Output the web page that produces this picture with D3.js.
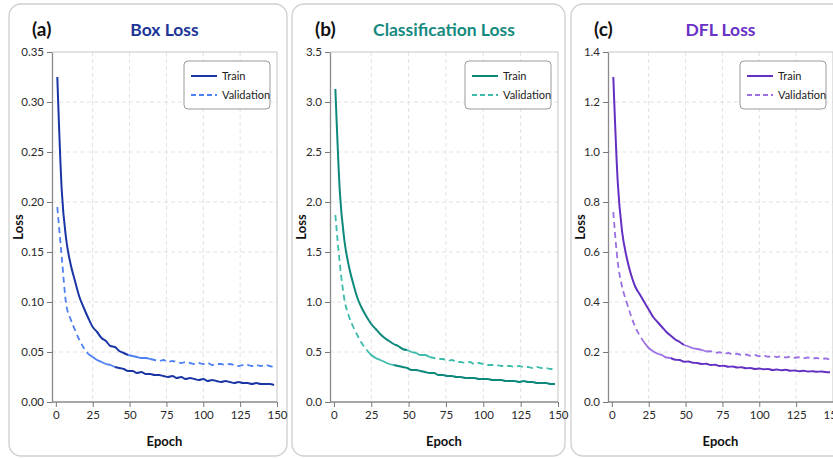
<!DOCTYPE html>
<html>
<head>
<meta charset="utf-8">
<script src="https://cdn.jsdelivr.net/npm/d3@7"></script>
<style>
  body { margin: 0; background: #fff; }
  svg { display: block; font-family: Lato, "Open Sans", sans-serif; }
</style>
</head>
<body>
<div id="chart"></div>
<script>
// epochs sampled every 3rd epoch (1, 4, ..., 148)
const epochs = d3.range(1, 149, 3)

const boxTrain = [0.325, 0.212, 0.163, 0.138, 0.121, 0.105, 0.094, 0.084, 0.075, 0.070,
  0.064, 0.061, 0.056, 0.055, 0.051, 0.049, 0.047, 0.046, 0.045, 0.044,
  0.044, 0.043, 0.042, 0.041, 0.042, 0.040, 0.041, 0.040, 0.039, 0.040,
  0.039, 0.038, 0.039, 0.038, 0.039, 0.037, 0.038, 0.038, 0.037, 0.038,
  0.037, 0.036, 0.037, 0.037, 0.036, 0.037, 0.036, 0.037, 0.036, 0.035]
const boxVal = [0.195, 0.145, 0.098, 0.083, 0.072, 0.062, 0.054, 0.048, 0.045, 0.042,
  0.040, 0.038, 0.037, 0.035, 0.034, 0.033, 0.031, 0.031, 0.029, 0.030,
  0.028, 0.028, 0.027, 0.027, 0.026, 0.025, 0.026, 0.024, 0.025, 0.023,
  0.024, 0.023, 0.022, 0.023, 0.021, 0.022, 0.021, 0.020, 0.021, 0.020,
  0.019, 0.020, 0.019, 0.019, 0.018, 0.019, 0.018, 0.018, 0.018, 0.017]

const clsTrain = [3.13, 2.10, 1.62, 1.36, 1.18, 1.03, 0.93, 0.85, 0.78, 0.73,
  0.68, 0.64, 0.61, 0.58, 0.56, 0.53, 0.52, 0.50, 0.49, 0.47,
  0.47, 0.45, 0.44, 0.43, 0.43, 0.41, 0.42, 0.40, 0.40, 0.39,
  0.40, 0.38, 0.39, 0.38, 0.37, 0.37, 0.37, 0.36, 0.36, 0.36,
  0.35, 0.36, 0.35, 0.35, 0.34, 0.35, 0.34, 0.34, 0.33, 0.33]
const clsVal = [1.87, 1.38, 1.03, 0.86, 0.75, 0.66, 0.58, 0.52, 0.47, 0.44,
  0.42, 0.40, 0.38, 0.37, 0.36, 0.35, 0.34, 0.32, 0.32, 0.31,
  0.30, 0.29, 0.29, 0.27, 0.27, 0.26, 0.26, 0.25, 0.25, 0.24,
  0.24, 0.24, 0.23, 0.23, 0.23, 0.22, 0.22, 0.22, 0.21, 0.21,
  0.21, 0.20, 0.21, 0.20, 0.20, 0.19, 0.19, 0.19, 0.18, 0.18]

const dflTrain = [1.30, 0.88, 0.68, 0.58, 0.51, 0.46, 0.43, 0.40, 0.37, 0.34,
  0.32, 0.30, 0.28, 0.265, 0.25, 0.24, 0.228, 0.222, 0.215, 0.212,
  0.208, 0.202, 0.203, 0.196, 0.199, 0.193, 0.196, 0.190, 0.193, 0.188,
  0.190, 0.185, 0.188, 0.183, 0.186, 0.181, 0.184, 0.180, 0.183, 0.178,
  0.181, 0.177, 0.179, 0.175, 0.178, 0.174, 0.176, 0.172, 0.174, 0.171]
const dflVal = [0.76, 0.56, 0.46, 0.40, 0.345, 0.298, 0.265, 0.238, 0.216, 0.203,
  0.193, 0.188, 0.178, 0.176, 0.169, 0.168, 0.161, 0.162, 0.157, 0.156,
  0.152, 0.153, 0.148, 0.149, 0.144, 0.145, 0.141, 0.142, 0.138, 0.139,
  0.135, 0.136, 0.132, 0.134, 0.131, 0.132, 0.128, 0.130, 0.127, 0.129,
  0.125, 0.126, 0.123, 0.125, 0.122, 0.123, 0.121, 0.122, 0.120, 0.119]

const xTicks = [0, 25, 50, 75, 100, 125, 150]
const seriesNames = ['Train', 'Validation']

// in the source figure the line styles swap partway along each curve
const upperSwap = [48, 62] // train curve: dark solid, then light solid, then light dashed
const lowerSwap = [22, 40] // validation curve: light dashed, then light solid, then dark solid

const panels = [
  { tag: '(a)', title: 'Box Loss', train: boxTrain, val: boxVal, yMax: 0.35, yStep: 0.05, fmt: '.2f',
    dark: '#1a36a5', light: '#4d80f2', titleColor: '#1c3596',
    card: [9, 287], plot: [52, 277] },
  { tag: '(b)', title: 'Classification Loss', train: clsTrain, val: clsVal, yMax: 3.5, yStep: 0.5, fmt: '.1f',
    dark: '#0d897c', light: '#3dbcab', titleColor: '#168a7f',
    card: [292, 565], plot: [330, 558] },
  { tag: '(c)', title: 'DFL Loss', train: dflTrain, val: dflVal, yMax: 1.4, yStep: 0.2, fmt: '.1f',
    dark: '#6330c2', light: '#9a70e3', titleColor: '#6a31c6',
    card: [571, 850], plot: [608, 833] },
]

const width = 833
const height = 458
const plotTop = 52
const plotBottom = 402

const svg = d3.select('#chart').append('svg')
  .attr('width', width)
  .attr('height', height)
  .attr('viewBox', `0 0 ${width} ${height}`)

function drawPanel(p) {
  const g = svg.append('g').attr('class', 'panel')
  const [left, right] = p.plot

  // card
  g.append('rect')
    .attr('x', p.card[0]).attr('y', 4)
    .attr('width', p.card[1] - p.card[0]).attr('height', 452)
    .attr('rx', 12)
    .attr('fill', '#fff')
    .attr('stroke', '#cfcfcf')
    .attr('stroke-width', 1.3)

  const x = d3.scaleLinear().domain([-2.6, 150]).range([left, right])
  const y = d3.scaleLinear().domain([0, p.yMax]).range([plotBottom, plotTop])
  const yTicks = d3.range(0, p.yMax + p.yStep / 2, p.yStep)

  // grid
  g.append('g').selectAll('line.h')
    .data(yTicks.slice(1, -1))
    .join('line')
    .attr('x1', left).attr('x2', right)
    .attr('y1', (d) => y(d)).attr('y2', (d) => y(d))
    .attr('stroke', '#e2e2e2').attr('stroke-dasharray', '4,3')
  g.append('g').selectAll('line.v')
    .data(xTicks.slice(1, -1))
    .join('line')
    .attr('x1', (d) => x(d)).attr('x2', (d) => x(d))
    .attr('y1', plotTop).attr('y2', plotBottom)
    .attr('stroke', '#e2e2e2').attr('stroke-dasharray', '4,3')

  // frame: light top/right, darker axes
  g.append('path')
    .attr('d', `M${left},${plotTop}H${right}V${plotBottom}`)
    .attr('fill', 'none').attr('stroke', '#c4c4c4').attr('stroke-width', 1)

  const xAxis = g.append('g')
    .attr('transform', `translate(0,${plotBottom})`)
    .call(d3.axisBottom(x).tickValues(xTicks).tickSize(5).tickSizeOuter(0).tickPadding(4))
  const yAxis = g.append('g')
    .attr('transform', `translate(${left},0)`)
    .call(d3.axisLeft(y).tickValues(yTicks).tickFormat(d3.format(p.fmt)).tickSize(5).tickSizeOuter(0).tickPadding(3))
  ;[xAxis, yAxis].forEach((a) => {
    a.select('.domain').attr('stroke', '#8a8a8a').attr('stroke-width', 1.3)
    a.selectAll('.tick line').attr('stroke', '#777')
    a.selectAll('.tick text').attr('fill', '#2a2a2a').attr('font-size', 11.5).attr('font-family', 'Lato, sans-serif')
  })
  xAxis.select('.domain').attr('d', `M${left},0H${right}`)

  // curves, styled piecewise
  const line = d3.line().x((d) => x(d[0])).y((d) => y(d[1])).curve(d3.curveMonotoneX)
  const styles = {
    darkSolid: { color: p.dark, dash: null, w: 2 },
    lightSolid: { color: p.light, dash: null, w: 1.8 },
    lightDash: { color: p.light, dash: '6,4', w: 1.8 },
  }
  function drawCurve(values, swaps, order) {
    const pts = epochs.map((e, i) => [e, values[i]])
    const cut = swaps.map((s) => d3.bisectLeft(epochs, s))
    const bounds = [0, ...cut, pts.length - 1]
    order.forEach((key, k) => {
      const seg = pts.slice(bounds[k], bounds[k + 1] + 1)
      const st = styles[key]
      g.append('path')
        .attr('d', line(seg))
        .attr('fill', 'none')
        .attr('stroke', st.color)
        .attr('stroke-width', st.w)
        .attr('stroke-linejoin', 'round')
        .attr('stroke-dasharray', st.dash)
    })
  }
  drawCurve(p.val, lowerSwap, ['lightDash', 'lightSolid', 'darkSolid'])
  drawCurve(p.train, upperSwap, ['darkSolid', 'lightSolid', 'lightDash'])

  // labels
  g.append('text')
    .attr('x', p.card[0] + 23).attr('y', 36)
    .attr('font-size', 19).attr('font-weight', 700).attr('fill', '#111')
    .text(p.tag)
  g.append('text')
    .attr('x', (left + right) / 2).attr('y', 36)
    .attr('text-anchor', 'middle')
    .attr('font-size', 17.5).attr('font-weight', 700).attr('fill', p.titleColor)
    .text(p.title)
  g.append('text')
    .attr('x', (left + right) / 2).attr('y', 446)
    .attr('text-anchor', 'middle')
    .attr('font-size', 13).attr('font-weight', 700).attr('fill', '#111')
    .text('Epoch')
  g.append('text')
    .attr('transform', `translate(${p.card[0] + 14},${(plotTop + plotBottom) / 2}) rotate(-90)`)
    .attr('text-anchor', 'middle')
    .attr('font-size', 13).attr('font-weight', 700).attr('fill', '#111')
    .text('Loss')

  // legend
  const lg = g.append('g').attr('transform', `translate(${right - 93},61)`)
  lg.append('rect')
    .attr('width', 86).attr('height', 48).attr('rx', 4)
    .attr('fill', '#fff').attr('stroke', '#9a9a9a').attr('stroke-width', 1)
  seriesNames.forEach((name, i) => {
    const st = i === 0 ? styles.darkSolid : styles.lightDash
    lg.append('line')
      .attr('x1', 7).attr('x2', 33)
      .attr('y1', 15 + i * 19).attr('y2', 15 + i * 19)
      .attr('stroke', st.color).attr('stroke-width', st.w)
      .attr('stroke-dasharray', i === 0 ? null : '5,3')
    lg.append('text')
      .attr('x', 38).attr('y', 19 + i * 19)
      .attr('font-size', 11).attr('fill', '#222')
      .text(name)
  })
}

panels.forEach(drawPanel)
</script>
</body>
</html>
